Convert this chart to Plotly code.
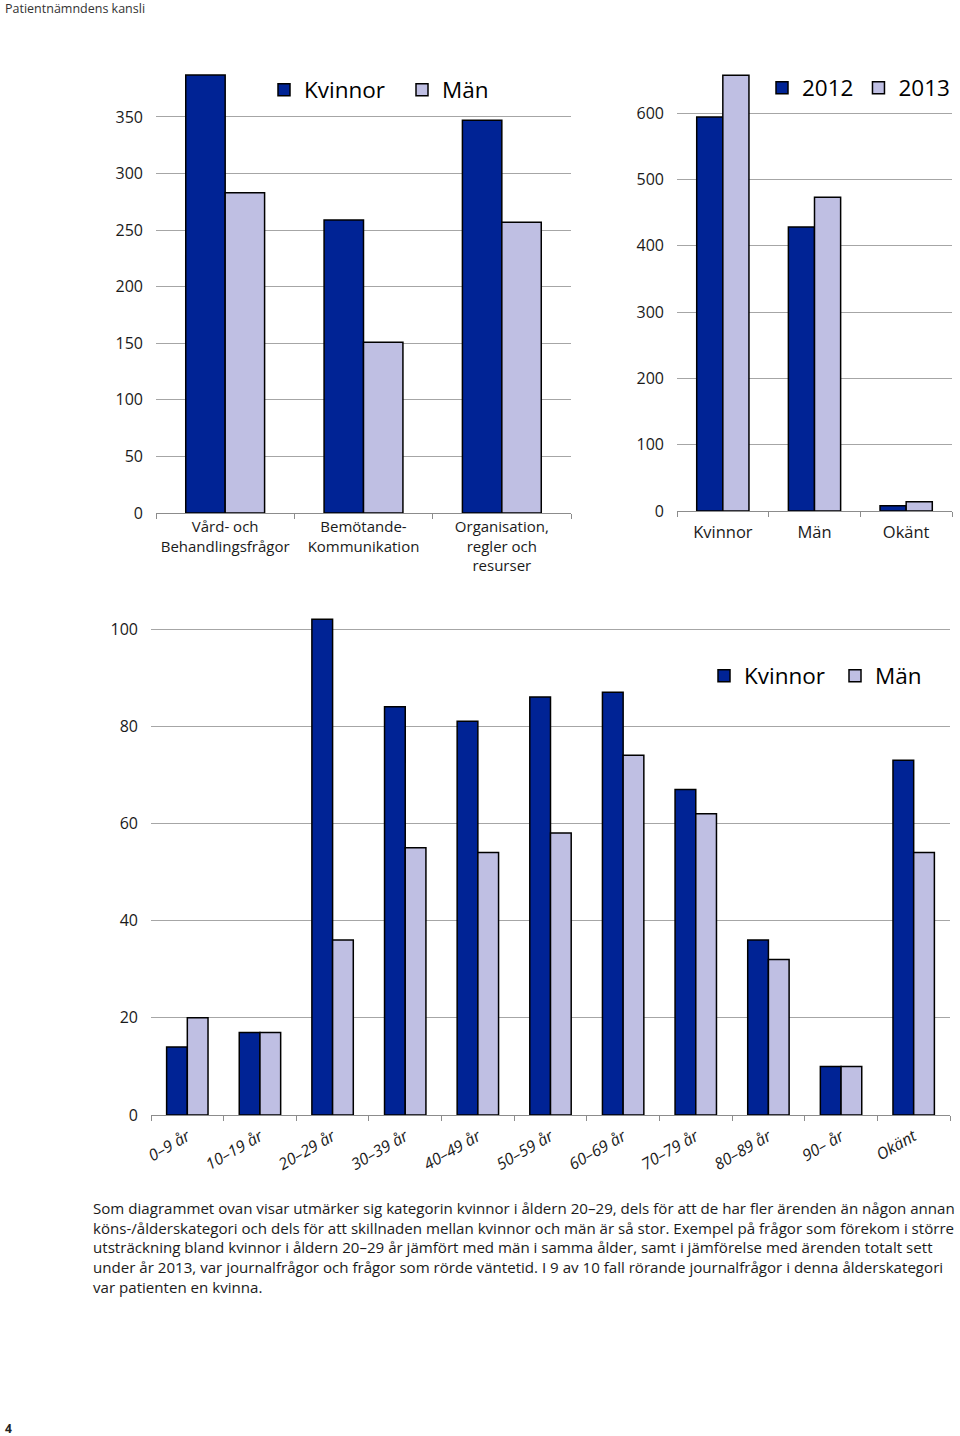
import plotly.graph_objects as go

# ---------------- data ----------------
cat_top_left = ["Vård- och<br>Behandlingsfrågor", "Bemötande-<br>Kommunikation",
                "Organisation,<br>regler och<br>resurser"]
tl_kvinnor = [387, 259, 347]
tl_man = [283, 151, 257]

cat_top_right = ["Kvinnor", "Män", "Okänt"]
tr_2012 = [594, 428, 8]
tr_2013 = [657, 473, 14]

cat_age = ["0–9 år", "10–19 år", "20–29 år", "30–39 år", "40–49 år", "50–59 år",
           "60–69 år", "70–79 år", "80–89 år", "90– år", "Okänt"]
age_kvinnor = [14, 17, 102, 84, 81, 86, 87, 67, 36, 10, 73]
age_man = [20, 17, 36, 55, 54, 58, 74, 62, 32, 10, 54]

tl_ticks = [0, 50, 100, 150, 200, 250, 300, 350]
tr_ticks = [0, 100, 200, 300, 400, 500, 600]
age_ticks = [0, 20, 40, 60, 80, 100]

paragraph = [
    "Som diagrammet ovan visar utmärker sig kategorin kvinnor i åldern 20–29, dels för att de har fler ärenden än någon annan",
    "köns-/ålderskategori och dels för att skillnaden mellan kvinnor och män är så stor. Exempel på frågor som förekom i större",
    "utsträckning bland kvinnor i åldern 20–29 år jämfört med män i samma ålder, samt i jämförelse med ärenden totalt sett",
    "under år 2013, var journalfrågor och frågor som rörde väntetid. I 9 av 10 fall rörande journalfrågor i denna ålderskategori",
    "var patienten en kvinna.",
]
header_text = "Patientnämndens kansli"
page_number = "4"

# ---------------- style ----------------
W, H = 960, 1436
DARK = "#002395"
LIGHT = "#BFBFE3"
GRID = "#a6a6a6"
AXIS = "#8c8c8c"
FONT = "Open Sans"
TXT = "#1a1a1a"


def fx(p):
    return p / W


def fy(p):
    return 1 - p / H


fig = go.Figure()
line = dict(color="black", width=1.5)

fig.add_trace(go.Bar(x=cat_top_left, y=tl_kvinnor, name="Kvinnor", marker=dict(color=DARK, line=line),
                     xaxis="x", yaxis="y", legend="legend"))
fig.add_trace(go.Bar(x=cat_top_left, y=tl_man, name="Män", marker=dict(color=LIGHT, line=line),
                     xaxis="x", yaxis="y", legend="legend"))
fig.add_trace(go.Bar(x=cat_top_right, y=tr_2012, name="2012", marker=dict(color=DARK, line=line),
                     xaxis="x2", yaxis="y2", legend="legend2"))
fig.add_trace(go.Bar(x=cat_top_right, y=tr_2013, name="2013", marker=dict(color=LIGHT, line=line),
                     xaxis="x2", yaxis="y2", legend="legend2"))
fig.add_trace(go.Bar(x=cat_age, y=age_kvinnor, name="Kvinnor", marker=dict(color=DARK, line=line),
                     xaxis="x3", yaxis="y3", legend="legend3"))
fig.add_trace(go.Bar(x=cat_age, y=age_man, name="Män", marker=dict(color=LIGHT, line=line),
                     xaxis="x3", yaxis="y3", legend="legend3"))


def xax(domain, anchor, size, **kw):
    d = dict(domain=domain, anchor=anchor, type="category", showgrid=False, showline=True,
             linecolor=AXIS, linewidth=1.2, ticks="outside", tickson="boundaries", ticklen=5,
             tickcolor=AXIS, tickfont=dict(family=FONT, size=size, color=TXT), fixedrange=True,
             automargin=False)
    d.update(kw)
    return d


def yax(domain, anchor, rng, ticks):
    return dict(domain=domain, anchor=anchor, range=rng, tickvals=ticks, showgrid=True,
                gridcolor=GRID, gridwidth=1, zeroline=False, showline=False, ticks="",
                ticklabelstandoff=12, tickfont=dict(family=FONT, size=16, color=TXT),
                fixedrange=True, automargin=False)


leg_common = dict(orientation="h", xanchor="left", yanchor="middle", bgcolor="rgba(0,0,0,0)",
                  font=dict(family=FONT, size=22.5, color="black"), itemclick=False, tracegroupgap=0)

fig.update_layout(
    width=W, height=H,
    margin=dict(l=0, r=0, t=0, b=0, autoexpand=False),
    paper_bgcolor="white", plot_bgcolor="white",
    barmode="group", bargap=0.43, bargroupgap=0,
    font=dict(family=FONT, color=TXT),
    xaxis=xax([fx(156), fx(571)], "y", 15),
    yaxis=yax([fy(513), fy(60.4)], "x", [0, 400], tl_ticks),
    xaxis2=xax([fx(677), fx(952)], "y2", 16.5, ticklabelstandoff=6),
    yaxis2=yax([fy(511), fy(46.7)], "x2", [0, 700], tr_ticks),
    xaxis3=xax([fx(151), fx(950)], "y3", 16, tickangle=-30, ticklabelstandoff=5,
               tickfont=dict(family=FONT, size=16, color=TXT, style="italic")),
    yaxis3=yax([fy(1115), fy(580.4)], "x3", [0, 110], age_ticks),
    legend=dict(x=fx(264), y=fy(90), entrywidth=93, **leg_common),
    legend2=dict(x=fx(762), y=fy(88), **leg_common),
    legend3=dict(x=fx(704), y=fy(676), entrywidth=86, **leg_common),
    showlegend=True,
)

annotations = [
    dict(text=header_text, x=fx(3), y=fy(8), xref="paper", yref="paper", xanchor="left",
         yanchor="middle", showarrow=False, font=dict(family=FONT, size=12.5, color="#333333")),
    dict(text="<b>" + page_number + "</b>", x=fx(3), y=fy(1428), xref="paper", yref="paper",
         xanchor="left", yanchor="middle", showarrow=False, font=dict(family=FONT, size=12, color="#222")),
]
line_y = [1208, 1228, 1247, 1267, 1287]
for t, yy in zip(paragraph, line_y):
    annotations.append(dict(text=t, x=fx(91), y=fy(yy), xref="paper", yref="paper", xanchor="left",
                            yanchor="middle", showarrow=False,
                            font=dict(family=FONT, size=15.1, color="#1a1a1a")))
fig.update_layout(annotations=annotations)

fig.write_html("out.html", config={"displayModeBar": False},
               post_script="document.body.style.margin='0';")
